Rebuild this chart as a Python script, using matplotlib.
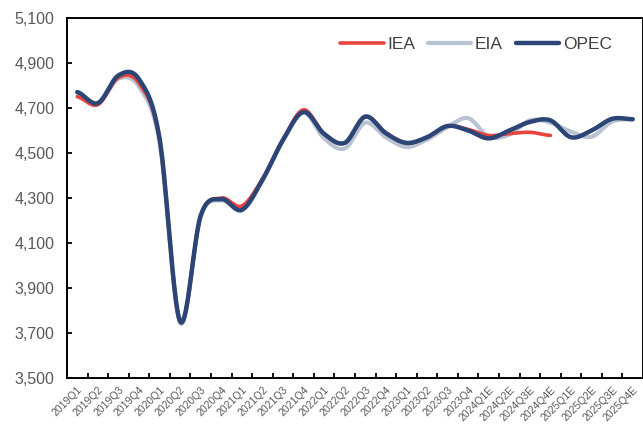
import numpy as np
import matplotlib
matplotlib.use("Agg")
import matplotlib.pyplot as plt

plt.rcParams["font.family"] = ["Liberation Sans", "DejaVu Sans"]

# quarters on the x axis
quarters = ["2019Q1", "2019Q2", "2019Q3", "2019Q4",
            "2020Q1", "2020Q2", "2020Q3", "2020Q4",
            "2021Q1", "2021Q2", "2021Q3", "2021Q4",
            "2022Q1", "2022Q2", "2022Q3", "2022Q4",
            "2023Q1", "2023Q2", "2023Q3", "2023Q4",
            "2024Q1E", "2024Q2E", "2024Q3E", "2024Q4E",
            "2025Q1E", "2025Q2E", "2025Q3E", "2025Q4E"]

# values (IEA stops at 2024Q4E)
iea = [4750, 4715, 4835, 4810, 4560, 3750, 4222, 4300, 4265, 4385, 4560, 4692,
       4585, 4545, 4660, 4590, 4545, 4570, 4620, 4605, 4578, 4586, 4592, 4578]
eia = [4765, 4720, 4830, 4795, 4545, 3745, 4218, 4290, 4250, 4380, 4555, 4680,
       4565, 4520, 4635, 4570, 4527, 4560, 4615, 4655, 4572, 4582, 4645, 4635,
       4595, 4572, 4640, 4650]
opec = [4771, 4722, 4845, 4828, 4565, 3752, 4222, 4295, 4247, 4380, 4558, 4682,
        4585, 4545, 4662, 4588, 4545, 4570, 4620, 4600, 4565, 4600, 4638, 4645,
        4570, 4600, 4652, 4650]

yticks = [3500, 3700, 3900, 4100, 4300, 4500, 4700, 4900, 5100]


# excel-like smoothed line (catmull-rom through the points)
def smooth(y, n=24):
    y = np.asarray(y, dtype=float)
    x = np.arange(len(y), dtype=float)
    p = np.concatenate([[y[0]], y, [y[-1]]])
    xs, ys = [], []
    for i in range(len(y) - 1):
        p0, p1, p2, p3 = p[i], p[i + 1], p[i + 2], p[i + 3]
        t = np.linspace(0, 1, n, endpoint=False)
        yy = 0.5 * ((2 * p1) + (-p0 + p2) * t
                    + (2 * p0 - 5 * p1 + 4 * p2 - p3) * t ** 2
                    + (-p0 + 3 * p1 - 3 * p2 + p3) * t ** 3)
        xs.append(x[i] + t)
        ys.append(yy)
    xs.append([x[-1]])
    ys.append([y[-1]])
    return np.concatenate(xs), np.concatenate(ys)


fig = plt.figure(figsize=(6.43, 4.26), dpi=100)
ax = fig.add_axes([0.1042, 0.1127, 0.8958, 0.845])

x, y = smooth(eia)
l_eia, = ax.plot(x, y, color="#b9c2d0", lw=3.0, solid_capstyle="round", label="EIA")
x, y = smooth(iea)
l_iea, = ax.plot(x, y, color="#e8443f", lw=2.6, solid_capstyle="round", label="IEA")
x, y = smooth(opec)
l_opec, = ax.plot(x, y, color="#2b4576", lw=3.2, solid_capstyle="round", label="OPEC")

ax.set_xlim(-0.5, len(quarters) - 0.5)
ax.set_ylim(3500, 5100)
ax.set_yticks(yticks)
ax.set_yticklabels(["{:,}".format(v) for v in yticks])

# tick marks between categories, labels at the centres
ax.set_xticks(np.arange(len(quarters) - 1) + 0.5)
ax.set_xticklabels([])
ax.set_xticks(np.arange(len(quarters)), minor=True)
ax.set_xticklabels(quarters, minor=True, rotation=45, ha="right",
                   rotation_mode="anchor", fontsize=7.5, color="#595959")
ax.tick_params(axis="x", which="minor", length=0, pad=5)
ax.tick_params(axis="x", which="major", direction="in", length=3.5, width=1.3)
ax.tick_params(axis="y", direction="in", length=3.5, width=1.3,
               labelsize=11.5, labelcolor="#595959", pad=9)

for side in ["left", "bottom", "top", "right"]:
    ax.spines[side].set_linewidth(1.4)
    ax.spines[side].set_color("black")

ax.legend(handles=[l_iea, l_eia, l_opec], loc="upper right",
          bbox_to_anchor=(0.973, 0.99), ncol=3, frameon=False,
          fontsize=12.5, handlelength=2.5, handletextpad=0.2,
          columnspacing=0.75, labelcolor="#404040")

fig.savefig("out.png", dpi=100)
